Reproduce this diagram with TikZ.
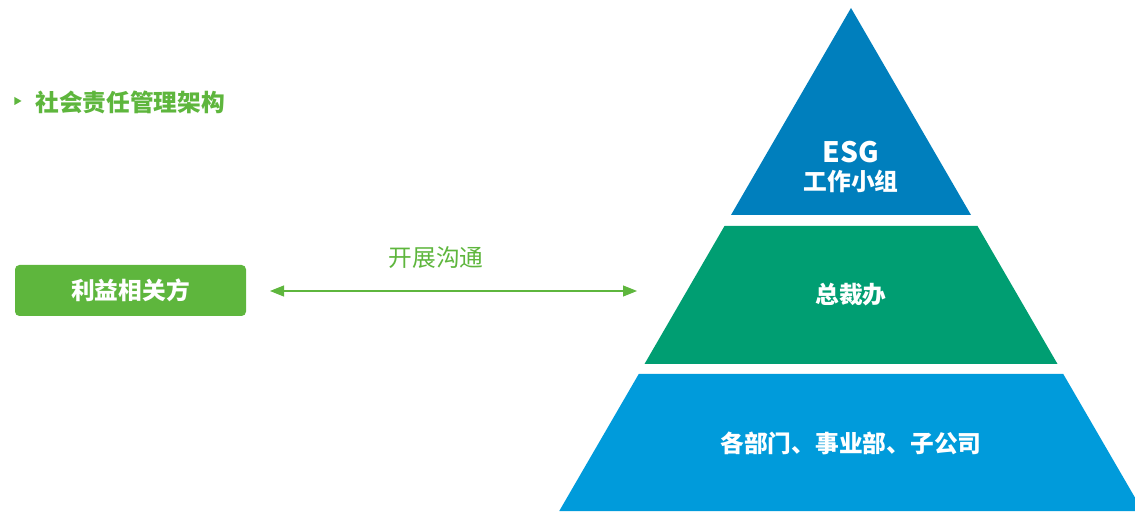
\documentclass[tikz,border=0pt]{standalone}
\usepackage{fontspec}
\setmainfont{Noto Sans CJK SC}
\usepackage{tikz}
\usetikzlibrary{arrows.meta,calc,positioning}
\definecolor{GreenDefault}{RGB}{94,182,61}
\definecolor{BlueTop}{RGB}{0,127,189}
\definecolor{GreenMid}{RGB}{0,158,114}
\definecolor{BlueLow}{RGB}{0,155,219}
\tikzset{
    label/.style={font=\fontsize{13.5}{16}\selectfont\bfseries, text=white, align=center},
    stakebox/.style={fill=GreenDefault, rounded corners=2.5pt, minimum width=4.62cm, minimum height=1.02cm, inner sep=0pt},
}

\begin{document}
\begin{tikzpicture}
    \useasboundingbox (0,0) rectangle (22.7,10.22);
    %%Title
    \fill[GreenDefault] (0.29,8.28) -- (0.43,8.20) -- (0.29,8.12) -- cycle;
    \node[anchor=west, text=GreenDefault, font=\fontsize{13.5}{16}\selectfont\bfseries, inner sep=0pt] (title) at (0.70,8.18) {社会责任管理架构};
    %%Stakeholders
    \node[stakebox, label] (stake) at (2.61,4.41) {利益相关方};
    %%Communication
    \coordinate (commL) at (5.40,4.40);
    \coordinate (commR) at (12.74,4.40);
    \draw[GreenDefault, line width=0.6pt, {Triangle[length=2.8mm,width=2.2mm]}-{Triangle[length=2.8mm,width=2.2mm]}] (commL) to (commR);
    \node[text=GreenDefault, font=\fontsize{13.5}{16}\selectfont] (comm) at (8.72,5.06) {开展沟通};
    %%Pyramid
    \fill[BlueTop] (17.02,10.06) to (19.42,5.92) to (14.62,5.92) -- cycle;
    \fill[GreenMid] (14.49,5.70) to (19.55,5.70) to (21.15,2.94) to (12.89,2.94) -- cycle;
    \fill[BlueLow] (12.775,2.74) to (21.265,2.74) to (22.855,0) to (11.185,0) -- cycle;
    \node[label, font=\fontsize{16}{19}\selectfont\bfseries] (esg) at (17.02,7.18) {ESG};
    \node[label] (group) at (17.02,6.60) {工作小组};
    \node[label] (ceo) at (17.02,4.32) {总裁办};
    \node[label] (dept) at (17.02,1.36) {各部门、事业部、子公司};
\end{tikzpicture}
\end{document}
